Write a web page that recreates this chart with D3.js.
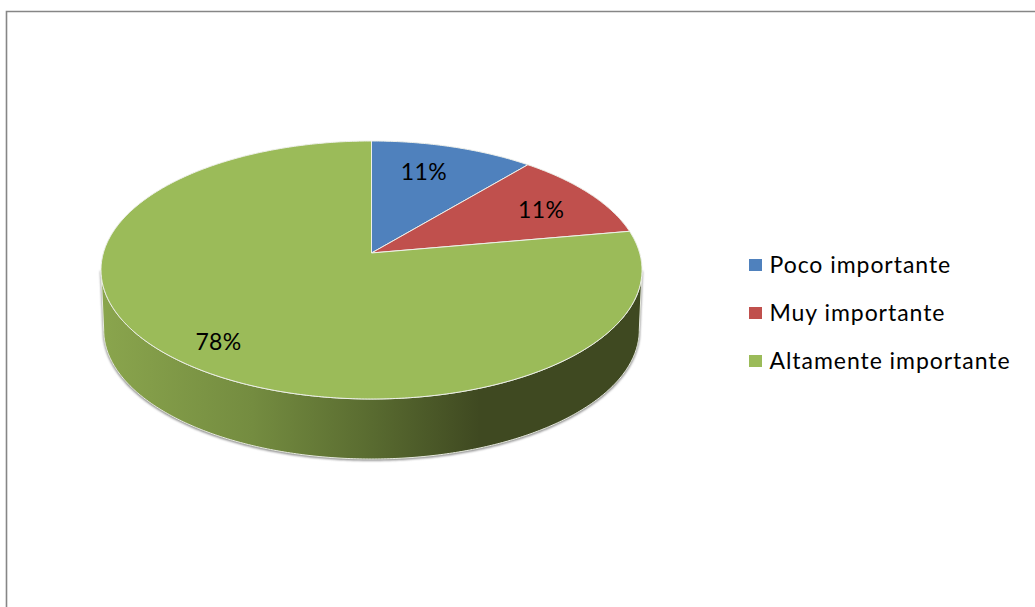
<!DOCTYPE html>
<html>
<head>
<meta charset="utf-8">
<script src="https://cdn.jsdelivr.net/npm/d3@7"></script>
<style>
  html, body { margin: 0; padding: 0; background: #fff; overflow: hidden; }
  svg { display: block; }
  text { font-family: Lato, "Noto Sans", sans-serif; fill: #000; }
</style>
</head>
<body>
<script>
// Chart data
var categories = ["Poco importante", "Muy importante", "Altamente importante"];
var values = [11.1, 11.1, 77.8];
var colors = ["#4f81bd", "#c0504d", "#9bbb59"];

// Where the best-fit labels sit: fraction of the radius, degrees off the slice middle
var labelRadius = [0.73, 0.75, 0.83];
var labelShift = [-3, 2, -1];

var width = 1035;
var height = 607;

var svg = d3.select("body")
  .append("svg")
  .attr("width", width)
  .attr("height", height);

var defs = svg.append("defs");

// Side wall shading, light on the left and dark towards the right
var wallGradient = defs.append("linearGradient")
  .attr("id", "wall")
  .attr("gradientUnits", "userSpaceOnUse")
  .attr("x1", 101).attr("x2", 642).attr("y1", 0).attr("y2", 0);
[[0, "#8aa54d"], [0.28, "#748c40"], [0.5, "#596b30"], [0.7, "#3f4921"], [1, "#3f4921"]].forEach(function(s) {
  wallGradient.append("stop").attr("offset", s[0]).attr("stop-color", s[1]);
});

defs.append("filter")
  .attr("id", "soft")
  .attr("x", "-5%").attr("y", "-5%").attr("width", "110%").attr("height", "110%")
  .append("feGaussianBlur")
  .attr("stdDeviation", 1.3);

// Chart frame, only top and left are inside the crop
svg.append("path")
  .attr("d", "M6.5,607V11.5H1035")
  .attr("fill", "none")
  .attr("stroke", "#868686")
  .attr("stroke-width", 1.6);

// Scales for the tilted disc
var xScale = d3.scaleLinear().domain([-1, 1]).range([101, 642]);
var yScale = d3.scaleLinear().domain([-1, 1]).range([141, 399]);
var depth = 60;
var bottomWidth = 0.99;

// Perspective: pushes the disc centre up from the middle of the ellipse
var tilt = -0.132;

function project(angle, r) {
  var c = Math.sin(angle) * r;
  var s = -Math.cos(angle) * r;
  var w = 1 + tilt * s;
  return [xScale(c * Math.sqrt(1 - tilt * tilt) / w), yScale((s + tilt) / w)];
}

function sample(a0, a1) {
  var n = Math.max(2, Math.ceil(Math.abs(a1 - a0) / 0.01));
  return d3.range(n + 1).map(function(i) {
    return project(a0 + (a1 - a0) * i / n, 1);
  });
}

var line = d3.line();

var pie = d3.pie().sort(null).value(function(d) { return d; });
var slices = pie(values);

// Side wall, between the two silhouette points of the disc
var wallStart = Math.acos(tilt);
var wallEnd = 2 * Math.PI - wallStart;
var midX = xScale(0);
var rim = sample(wallStart, wallEnd);
var rimBottom = rim.map(function(p) {
  return [midX + (p[0] - midX) * bottomWidth, p[1] + depth];
}).reverse();
var wallPath = line(rim.concat(rimBottom)) + "Z";

// Soft grey shadow round the wall
svg.append("path")
  .attr("d", wallPath)
  .attr("transform", "translate(0,1)")
  .attr("fill", "#8c8c8c")
  .attr("stroke", "#8c8c8c")
  .attr("stroke-width", 1.5)
  .attr("filter", "url(#soft)");

svg.append("path")
  .attr("d", wallPath)
  .attr("fill", "url(#wall)")
  .attr("stroke", "#e8ebe0")
  .attr("stroke-width", 1);

// Top face
svg.selectAll("path.slice")
  .data(slices)
  .enter().append("path")
  .attr("class", "slice")
  .attr("d", function(d) {
    return line([project(0, 0)].concat(sample(d.startAngle, d.endAngle))) + "Z";
  })
  .attr("fill", function(d, i) { return colors[i]; })
  .attr("stroke", "#eef0ea")
  .attr("stroke-width", 1)
  .attr("stroke-linejoin", "round");

// Percent labels
svg.selectAll("text.pct")
  .data(slices)
  .enter().append("text")
  .attr("class", "pct")
  .attr("transform", function(d, i) {
    var mid = (d.startAngle + d.endAngle) / 2 + labelShift[i] * Math.PI / 180;
    return "translate(" + project(mid, labelRadius[i]) + ")";
  })
  .attr("text-anchor", "middle")
  .attr("dy", "0.35em")
  .style("font-size", "23px")
  .style("letter-spacing", "0.4px")
  .text(function(d) { return d3.format(".0f")(d.value) + "%"; });

// Legend
var legendY = d3.scalePoint().domain(categories).range([265, 361]);

var legend = svg.selectAll("g.legend")
  .data(categories)
  .enter().append("g")
  .attr("class", "legend")
  .attr("transform", function(d) { return "translate(749," + legendY(d) + ")"; });

legend.append("rect")
  .attr("x", 0)
  .attr("y", -6)
  .attr("width", 13)
  .attr("height", 12)
  .attr("fill", function(d, i) { return colors[i]; });

legend.append("text")
  .attr("x", 20.5)
  .attr("y", 8)
  .style("font-size", "23px")
  .style("letter-spacing", "0.95px")
  .text(function(d) { return d; });
</script>
</body>
</html>
